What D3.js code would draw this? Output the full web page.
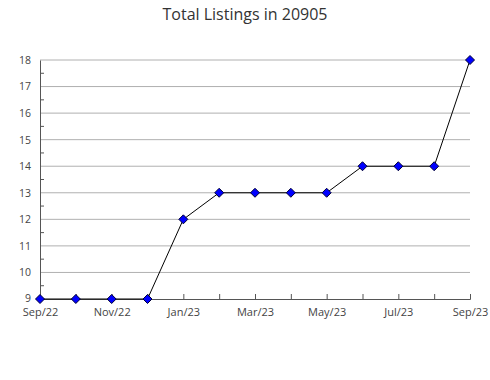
<!DOCTYPE html>
<html><head>
<meta charset="utf-8">
<script src="https://d3js.org/d3.v7.min.js"></script>
<style>
  body { margin: 0; background: #fff; }
  text { font-family: "Open Sans", "Noto Sans", sans-serif; }
</style>
</head>
<body>
<svg id="chart" width="490" height="380"></svg>
<script>
// data
const months = ["Sep/22","Oct/22","Nov/22","Dec/22","Jan/23","Feb/23","Mar/23",
                "Apr/23","May/23","Jun/23","Jul/23","Aug/23","Sep/23"];
const listings = [9, 9, 9, 9, 12, 13, 13, 13, 13, 14, 14, 14, 18];
const yTicks = [9, 10, 11, 12, 13, 14, 15, 16, 17, 18];
const xLabelEvery = 2;

let svg = d3.select("svg#chart");
let margin = { top: 60, right: 20, bottom: 81, left: 40 };
let chartWidth = 490 - margin.left - margin.right;
let chartHeight = 380 - margin.top - margin.bottom;

let g = svg.append("g").attr("transform", "translate(" + margin.left + "," + margin.top + ")");

const xScale = d3.scalePoint().domain(months).range([0, chartWidth]);
const yScale = d3.scaleLinear().domain([9, 18]).range([chartHeight, 0]);

// title
svg.append("text")
  .attr("x", 245).attr("y", 20)
  .attr("text-anchor", "middle")
  .attr("font-size", 16)
  .attr("fill", "#333")
  .text("Total Listings in 20905");

// gridlines
g.selectAll("line.grid").data(yTicks.slice(1)).join("line")
  .attr("class", "grid")
  .attr("x1", 0).attr("x2", chartWidth)
  .attr("y1", d => yScale(d)).attr("y2", d => yScale(d))
  .attr("stroke", "#b0b0b0").attr("stroke-width", 1);

// half-step minor ticks on the y axis
const halfTicks = yTicks.slice(0, -1).map(d => d + 0.5);
g.selectAll("line.minor").data(halfTicks).join("line")
  .attr("class", "minor")
  .attr("x1", 0).attr("x2", 4)
  .attr("y1", d => yScale(d)).attr("y2", d => yScale(d))
  .attr("stroke", "#555");

// y axis
let leftAxis = d3.axisLeft(yScale).tickValues(yTicks).tickSize(0).tickPadding(9);
let ya = g.append("g").call(leftAxis);
ya.select(".domain").attr("stroke", "#555");
ya.selectAll("text").attr("font-size", 10.5).attr("fill", "#444")
  .attr("font-family", "'Open Sans', sans-serif");
// nudge the bottom label up a little, as in the original
ya.selectAll(".tick").filter(d => d === 9).select("text").attr("dy", "0.2em");

// x axis, ticks pointing up into the chart
let bottomAxis = d3.axisBottom(xScale).tickSize(-5).tickPadding(9)
  .tickFormat((d, i) => i % xLabelEvery === 0 ? d : "");
let xa = g.append("g").attr("transform", "translate(0," + chartHeight + ")").call(bottomAxis);
xa.select(".domain").attr("stroke", "#555");
xa.selectAll(".tick line").attr("stroke", "#555");
xa.selectAll("text").attr("font-size", 11).attr("fill", "#444")
  .attr("font-family", "'Open Sans', sans-serif");

// line
let line = d3.line().x((d, i) => xScale(months[i])).y(d => yScale(d));
g.append("path").datum(listings)
  .attr("d", line)
  .attr("fill", "none")
  .attr("stroke", "#000")
  .attr("stroke-width", 1);

// diamond markers
g.selectAll("path.pt").data(listings).join("path")
  .attr("class", "pt")
  .attr("d", "M0,-4.5L4.5,0L0,4.5L-4.5,0Z")
  .attr("transform", (d, i) => "translate(" + xScale(months[i]) + "," + yScale(d) + ")")
  .attr("fill", "#0000ff")
  .attr("stroke", "#000033")
  .attr("stroke-width", 1);
</script>
</body>
</html>
